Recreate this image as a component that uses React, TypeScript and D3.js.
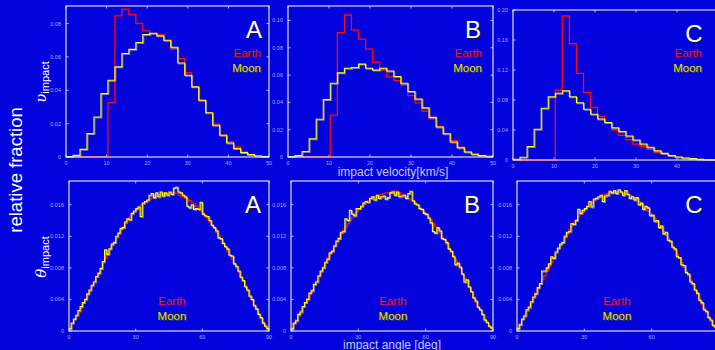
import React from "react";
import * as d3 from "d3";

const W = 715;
const H = 350;

const velTicks = [0, 10, 20, 30, 40, 50];
const angTicks = [0, 30, 60, 90];
const velBinWidth = 1.72;
const angBinWidth = 1;

// impact velocity histograms (relative fraction per bin)
const velEarthA = [0, 0, 0, 0, 0, 0, 0.0325, 0.0846, 0.0886, 0.0854, 0.08, 0.0756, 0.074, 0.0733, 0.0698, 0.0646, 0.059, 0.0505, 0.042, 0.034, 0.0265, 0.0197, 0.0132, 0.009, 0.006, 0.003, 0.0016, 0.0008, 0.0004];
const velMoonA = [0.0002, 0.001, 0.0046, 0.014, 0.024, 0.038, 0.046, 0.054, 0.062, 0.0645, 0.0686, 0.0734, 0.0742, 0.0726, 0.07, 0.0658, 0.0563, 0.049, 0.042, 0.034, 0.0265, 0.019, 0.013, 0.0084, 0.005, 0.0026, 0.0014, 0.0006, 0.0002];
const velEarthB = [0, 0, 0, 0, 0, 0, 0.0306, 0.091, 0.104, 0.093, 0.0863, 0.079, 0.0694, 0.0636, 0.0587, 0.056, 0.0526, 0.045, 0.0396, 0.0335, 0.028, 0.0225, 0.017, 0.012, 0.0073, 0.0037, 0.002, 0.0012, 0.0005];
const velMoonB = [0.0003, 0.001, 0.004, 0.0134, 0.0276, 0.042, 0.054, 0.0616, 0.065, 0.0655, 0.068, 0.065, 0.0636, 0.065, 0.063, 0.059, 0.054, 0.048, 0.0425, 0.036, 0.029, 0.022, 0.017, 0.011, 0.0068, 0.0037, 0.002, 0.001, 0.0005];
const velEarthC = [0, 0, 0, 0, 0, 0, 0.093, 0.192, 0.155, 0.1156, 0.09, 0.07, 0.058, 0.049, 0.04, 0.033, 0.027, 0.0213, 0.0178, 0.0142, 0.0098, 0.008, 0.0058, 0.0036, 0.0022, 0.0013, 0.0008, 0.0004, 0.0002];
const velMoonC = [0.001, 0.0036, 0.0178, 0.041, 0.069, 0.0844, 0.089, 0.0924, 0.0844, 0.0764, 0.0676, 0.061, 0.0547, 0.05, 0.043, 0.038, 0.032, 0.0267, 0.0213, 0.017, 0.0124, 0.0089, 0.0058, 0.004, 0.0027, 0.0018, 0.0009, 0.0005, 0.0002];

// impact angle histograms, 1 degree bins
const angEarthA = [
  0.0004, 0.0009, 0.0014, 0.0019, 0.0024, 0.0029, 0.0035, 0.004, 0.0045, 0.0051,
  0.0057, 0.0063, 0.0068, 0.0074, 0.008, 0.0086, 0.0092, 0.0098, 0.0103, 0.0108,
  0.0113, 0.0118, 0.0123, 0.0128, 0.0132, 0.0136, 0.014, 0.0144, 0.0147, 0.015,
  0.0153, 0.0156, 0.0159, 0.0161, 0.0163, 0.0165, 0.0167, 0.0168, 0.017, 0.0171,
  0.0172, 0.0173, 0.0173, 0.0174, 0.0174, 0.0175, 0.0175, 0.0176, 0.0174, 0.0172,
  0.0171, 0.017, 0.0168, 0.0167, 0.0165, 0.0163, 0.0161, 0.0158, 0.0155, 0.0152,
  0.0149, 0.0145, 0.0142, 0.0138, 0.0134, 0.013, 0.0125, 0.0121, 0.0116, 0.0111,
  0.0106, 0.0101, 0.0096, 0.0091, 0.0086, 0.008, 0.0075, 0.0069, 0.0063, 0.0057,
  0.0051, 0.0045, 0.0039, 0.0033, 0.0027, 0.0022, 0.0016, 0.0011, 0.0007, 0.0003,
];
const angMoonA = [
  0.0003, 0.001, 0.0015, 0.002, 0.0026, 0.0031, 0.0036, 0.004, 0.0047, 0.0052,
  0.0058, 0.0062, 0.0069, 0.0073, 0.0079, 0.0088, 0.0103, 0.0097, 0.0104, 0.011,
  0.0112, 0.012, 0.0124, 0.013, 0.0131, 0.0138, 0.0142, 0.0141, 0.0149, 0.0152,
  0.0155, 0.0157, 0.0145, 0.0162, 0.0164, 0.0166, 0.0172, 0.0174, 0.0169, 0.0175,
  0.017, 0.0176, 0.0171, 0.0175, 0.0172, 0.0176, 0.0173, 0.0181, 0.0182, 0.0176,
  0.0175, 0.0172, 0.017, 0.0158, 0.0156, 0.016, 0.0154, 0.0155, 0.0154, 0.0163,
  0.0148, 0.0146, 0.0145, 0.014, 0.0134, 0.0131, 0.0127, 0.0118, 0.0117, 0.0111,
  0.0107, 0.0104, 0.0096, 0.0095, 0.0085, 0.0082, 0.0076, 0.0068, 0.0064, 0.0056,
  0.0052, 0.0044, 0.004, 0.0032, 0.0028, 0.0021, 0.0017, 0.001, 0.0006, 0.0003,
];
const angEarthB = [
  0.0004, 0.0009, 0.0014, 0.0019, 0.0025, 0.003, 0.0035, 0.0041, 0.0046, 0.0052,
  0.0058, 0.0063, 0.0069, 0.0075, 0.0081, 0.0086, 0.0092, 0.0097, 0.0102, 0.0107,
  0.0113, 0.0118, 0.0123, 0.0128, 0.0132, 0.0136, 0.014, 0.0144, 0.0148, 0.0151,
  0.0154, 0.0157, 0.016, 0.0163, 0.0165, 0.0167, 0.0169, 0.017, 0.0171, 0.0172,
  0.0173, 0.0174, 0.0175, 0.0175, 0.0176, 0.0177, 0.0177, 0.0176, 0.0175, 0.0173,
  0.0172, 0.017, 0.0168, 0.0166, 0.0164, 0.0162, 0.0159, 0.0156, 0.0153, 0.015,
  0.0147, 0.0144, 0.014, 0.0136, 0.0132, 0.0128, 0.0124, 0.0119, 0.0115, 0.011,
  0.0105, 0.01, 0.0095, 0.009, 0.0085, 0.0079, 0.0073, 0.0067, 0.0061, 0.0055,
  0.0049, 0.0043, 0.0037, 0.0031, 0.0026, 0.002, 0.0015, 0.001, 0.0006, 0.0003,
];
const angMoonB = [
  0.0003, 0.001, 0.0013, 0.0021, 0.0024, 0.0031, 0.0036, 0.004, 0.0048, 0.0051,
  0.0059, 0.0062, 0.007, 0.0076, 0.008, 0.0087, 0.0091, 0.0099, 0.0101, 0.0108,
  0.0114, 0.0117, 0.0125, 0.0126, 0.0142, 0.014, 0.0153, 0.0148, 0.0146, 0.0155,
  0.0155, 0.0158, 0.0162, 0.0164, 0.0163, 0.0168, 0.017, 0.0166, 0.0172, 0.0168,
  0.017, 0.0171, 0.0167, 0.0169, 0.0175, 0.0176, 0.0172, 0.0176, 0.017, 0.0171,
  0.0172, 0.0168, 0.0174, 0.0177, 0.0165, 0.0161, 0.016, 0.0155, 0.0154, 0.0149,
  0.0148, 0.0143, 0.0137, 0.0126, 0.0124, 0.0131, 0.0127, 0.0117, 0.0116, 0.0112,
  0.0104, 0.0101, 0.0094, 0.0084, 0.0086, 0.0081, 0.0072, 0.0062, 0.0065, 0.0056,
  0.005, 0.0042, 0.0038, 0.003, 0.0027, 0.0021, 0.0014, 0.0011, 0.0006, 0.0004,
];
const angEarthC = [
  0.0004, 0.0009, 0.0014, 0.002, 0.0025, 0.0031, 0.0036, 0.0042, 0.0048, 0.0053,
  0.0059, 0.0065, 0.007, 0.0076, 0.0082, 0.0087, 0.0093, 0.0098, 0.0103, 0.0108,
  0.0113, 0.0118, 0.0123, 0.0128, 0.0133, 0.0137, 0.0141, 0.0145, 0.0148, 0.0151,
  0.0154, 0.0157, 0.016, 0.0163, 0.0165, 0.0167, 0.0169, 0.017, 0.0172, 0.0173,
  0.0174, 0.0175, 0.0175, 0.0176, 0.0176, 0.0176, 0.0176, 0.0175, 0.0174, 0.0173,
  0.0172, 0.017, 0.0168, 0.0166, 0.0164, 0.0161, 0.0158, 0.0155, 0.0152, 0.0149,
  0.0146, 0.0142, 0.0138, 0.0134, 0.013, 0.0126, 0.0121, 0.0117, 0.0112, 0.0107,
  0.0102, 0.0097, 0.0092, 0.0087, 0.0081, 0.0076, 0.007, 0.0064, 0.0058, 0.0052,
  0.0046, 0.004, 0.0034, 0.0029, 0.0023, 0.0018, 0.0013, 0.0008, 0.0005, 0.0002,
];
const angMoonC = [
  0.0003, 0.0008, 0.0015, 0.0019, 0.0027, 0.003, 0.0037, 0.0043, 0.0047, 0.0055,
  0.006, 0.0076, 0.0076, 0.008, 0.0085, 0.0094, 0.0092, 0.01, 0.0105, 0.011,
  0.0112, 0.012, 0.0125, 0.0126, 0.0136, 0.0135, 0.014, 0.0154, 0.0149, 0.0153,
  0.0155, 0.0158, 0.0164, 0.0157, 0.0167, 0.0168, 0.017, 0.0172, 0.0164, 0.0171,
  0.0172, 0.0177, 0.0175, 0.0178, 0.0174, 0.0179, 0.0176, 0.0172, 0.0178, 0.0173,
  0.0168, 0.017, 0.0166, 0.0169, 0.016, 0.0162, 0.0154, 0.0158, 0.0156, 0.0146,
  0.0147, 0.0139, 0.014, 0.0131, 0.0133, 0.0123, 0.0125, 0.0115, 0.0114, 0.0106,
  0.0104, 0.0094, 0.0093, 0.0084, 0.0083, 0.0074, 0.0072, 0.0062, 0.006, 0.0052,
  0.0048, 0.0039, 0.0036, 0.0027, 0.0025, 0.0017, 0.0014, 0.0007, 0.0005, 0.0002,
];

const velYTicksAB = [0, 0.02, 0.04, 0.06, 0.08];
const velYTicksB = [0, 0.02, 0.04, 0.06, 0.08, 0.1];
const velYTicksC = [0, 0.04, 0.08, 0.12, 0.16, 0.2];
const angYTicks = [0, 0.004, 0.008, 0.012, 0.016];

const BG = "#0303de";
const FRAME = "#dcdcf0";
const TICKTXT = "#a8a8ff";
const FONT = "'Liberation Sans', Arial, sans-serif";

type Panel = {
  id: string;
  letter: string;
  letterX: number;
  x0: number; x1: number; y0: number; y1: number;
  xMax: number; yMax: number;
  xTicks: number[]; yTicks: number[]; yDigits: number;
  binWidth: number;
  earth: number[]; moon: number[];
  legend: { x: number; y: number; anchor: "end" | "middle" };
  shadow: boolean;
};

const panels: Panel[] = [
  { id: "va", letter: "A", letterX: 254, x0: 66, x1: 269, y0: 6, y1: 157, xMax: 50, yMax: 0.0905, xTicks: velTicks, yTicks: velYTicksAB, yDigits: 2, binWidth: velBinWidth, earth: velEarthA, moon: velMoonA, legend: { x: 261, y: 57, anchor: "end" }, shadow: false },
  { id: "vb", letter: "B", letterX: 473, x0: 288, x1: 493, y0: 6, y1: 157, xMax: 50, yMax: 0.1106, xTicks: velTicks, yTicks: velYTicksB, yDigits: 2, binWidth: velBinWidth, earth: velEarthB, moon: velMoonB, legend: { x: 482, y: 57, anchor: "end" }, shadow: false },
  { id: "vc", letter: "C", letterX: 694, x0: 513, x1: 718, y0: 10, y1: 160, xMax: 50, yMax: 0.2, xTicks: velTicks, yTicks: velYTicksC, yDigits: 2, binWidth: velBinWidth, earth: velEarthC, moon: velMoonC, legend: { x: 702, y: 57, anchor: "end" }, shadow: false },
  { id: "aa", letter: "A", letterX: 253, x0: 69, x1: 269, y0: 181, y1: 331, xMax: 90, yMax: 0.019, xTicks: angTicks, yTicks: angYTicks, yDigits: 3, binWidth: angBinWidth, earth: angEarthA, moon: angMoonA, legend: { x: 172, y: 305, anchor: "middle" }, shadow: true },
  { id: "ab", letter: "B", letterX: 472, x0: 291, x1: 493, y0: 181, y1: 331, xMax: 90, yMax: 0.019, xTicks: angTicks, yTicks: angYTicks, yDigits: 3, binWidth: angBinWidth, earth: angEarthB, moon: angMoonB, legend: { x: 393, y: 305, anchor: "middle" }, shadow: true },
  { id: "ac", letter: "C", letterX: 694, x0: 517, x1: 719, y0: 181, y1: 331, xMax: 90, yMax: 0.019, xTicks: angTicks, yTicks: angYTicks, yDigits: 3, binWidth: angBinWidth, earth: angEarthC, moon: angMoonC, legend: { x: 617, y: 305, anchor: "middle" }, shadow: true },
];

function stepPath(values: number[], bw: number, x: d3.ScaleLinear<number, number>, y: d3.ScaleLinear<number, number>) {
  const pts: [number, number][] = [[0, 0]];
  values.forEach((v, i) => pts.push([i * bw, v]));
  pts.push([values.length * bw, values[values.length - 1]]);
  pts.push([values.length * bw, 0]);
  const line = d3
    .line<[number, number]>()
    .x((d) => x(Math.min(d[0], x.domain()[1])))
    .y((d) => y(d[1]))
    .curve(d3.curveStepAfter);
  return line(pts) || "";
}

function PanelView({ p }: { p: Panel }) {
  const x = d3.scaleLinear().domain([0, p.xMax]).range([p.x0, p.x1]);
  const y = d3.scaleLinear().domain([0, p.yMax]).range([p.y1, p.y0]);
  const fmt = d3.format(`.${p.yDigits}f`);
  const earthD = stepPath(p.earth, p.binWidth, x, y);
  const moonD = stepPath(p.moon, p.binWidth, x, y);
  const tl = 2.5;
  return (
    <g>
      <defs>
        <clipPath id={`clip-${p.id}`}>
          <rect x={p.x0} y={p.y0} width={p.x1 - p.x0} height={p.y1 - p.y0 + 1} />
        </clipPath>
      </defs>

      {/* y ticks + labels */}
      {p.yTicks.map((t) => (
        <g key={`y${t}`}>
          <line x1={p.x0} x2={p.x0 + tl} y1={y(t)} y2={y(t)} stroke={FRAME} strokeWidth={0.8} />
          <line x1={p.x1 - tl} x2={p.x1} y1={y(t)} y2={y(t)} stroke={FRAME} strokeWidth={0.8} />
          <text x={p.x0 - 5} y={y(t) + 2} textAnchor="end" fontSize={5.5} fill={TICKTXT} fontFamily={FONT}>
            {t === 0 ? "0" : fmt(t)}
          </text>
        </g>
      ))}

      {/* x ticks + labels (the last one of panel C runs off the page) */}
      {p.xTicks.map((t) => (
        <g key={`x${t}`}>
          <line x1={x(t)} x2={x(t)} y1={p.y1} y2={p.y1 - tl} stroke={FRAME} strokeWidth={0.8} />
          <line x1={x(t)} x2={x(t)} y1={p.y0} y2={p.y0 + tl} stroke={FRAME} strokeWidth={0.8} />
          {x(t) < W - 4 && (
            <text x={x(t)} y={p.y1 + 7.5} textAnchor="middle" fontSize={5.5} fill={TICKTXT} fontFamily={FONT}>
              {t}
            </text>
          )}
        </g>
      ))}

      <g clipPath={`url(#clip-${p.id})`}>
        <path d={earthD} fill="none" stroke="#ff0a0a" strokeWidth={1.3} />
        <path d={moonD} fill="none" stroke="#9c9c9c" strokeWidth={1.1} opacity={0.8} transform="translate(0.9,0.9)" />
        <path d={moonD} fill="none" stroke="#ffff10" strokeWidth={1.1} />
      </g>

      <rect x={p.x0} y={p.y0} width={p.x1 - p.x0} height={p.y1 - p.y0} fill="none" stroke={FRAME} strokeWidth={1.2} />

      {/* panel letter */}
      <text x={p.letterX + 1.2} y={p.y0 + 32 + 1.2} textAnchor="middle" fontSize={24} fill="#101040" fontFamily={FONT}>
        {p.letter}
      </text>
      <text x={p.letterX} y={p.y0 + 32} textAnchor="middle" fontSize={24} fill="#ffffff" fontFamily={FONT}>
        {p.letter}
      </text>

      {/* legend */}
      <text x={p.legend.x + 0.8} y={p.legend.y + 0.8} textAnchor={p.legend.anchor} fontSize={11.5} fill="#202060" fontFamily={FONT}>Earth</text>
      <text x={p.legend.x} y={p.legend.y} textAnchor={p.legend.anchor} fontSize={11.5} fill={p.shadow ? "#e8106a" : "#f0102e"} fontFamily={FONT}>Earth</text>
      <text x={p.legend.x + 0.8} y={p.legend.y + 15 + 0.8} textAnchor={p.legend.anchor} fontSize={11.5} fill="#404020" fontFamily={FONT}>Moon</text>
      <text x={p.legend.x} y={p.legend.y + 15} textAnchor={p.legend.anchor} fontSize={11.5} fill="#e6e600" fontFamily={FONT}>Moon</text>
    </g>
  );
}

export default function App() {
  return (
    <svg
      width={W}
      height={H}
      style={{ position: "absolute", left: 0, top: 0, display: "block" }}
    >
      <rect x={0} y={0} width={W} height={H} fill={BG} />

      {panels.map((p) => (
        <PanelView key={p.id} p={p} />
      ))}

      {/* shared axis titles */}
      <text
        transform="translate(22 170) rotate(-90)"
        textAnchor="middle"
        fontSize={18.5}
        fill="#ffffff"
        fontFamily={FONT}
      >
        relative fraction
      </text>

      <text transform="translate(46 82) rotate(-90)" textAnchor="middle" fill="#ffffff" fontFamily={FONT}>
        <tspan fontSize={15} fontStyle="italic" fontFamily="'DejaVu Serif', serif">υ</tspan>
        <tspan fontSize={11} dy={3}>impact</tspan>
      </text>

      <text transform="translate(46 257) rotate(-90)" textAnchor="middle" fill="#ffffff" fontFamily={FONT}>
        <tspan fontSize={15} fontStyle="italic" fontFamily="'DejaVu Serif', serif">θ</tspan>
        <tspan fontSize={11} dy={3}>impact</tspan>
      </text>

      <text x={393} y={176} textAnchor="middle" fontSize={12} fill="#c8c8f0" fontFamily={FONT}>
        impact velocity[km/s]
      </text>
      <text x={392} y={349} textAnchor="middle" fontSize={12} fill="#c8c8f0" fontFamily={FONT}>
        impact angle [deg]
      </text>
    </svg>
  );
}
